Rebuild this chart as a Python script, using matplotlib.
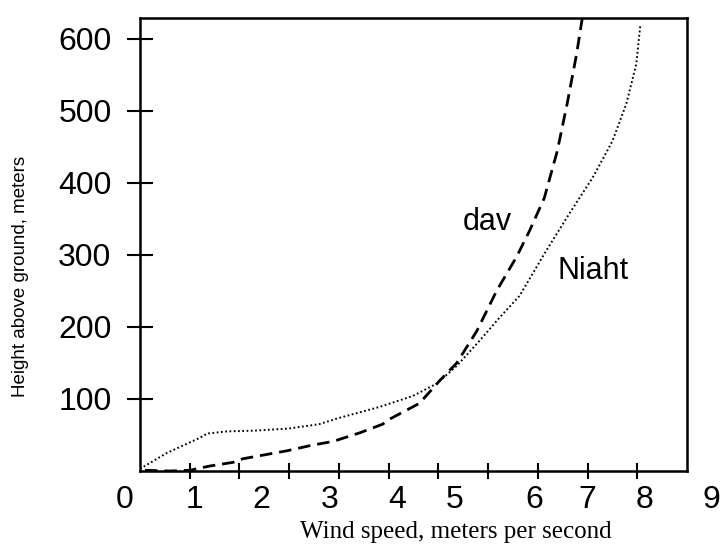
import matplotlib
matplotlib.use("Agg")
import matplotlib.pyplot as plt

# ---- data (x in axis tick units: tick marks at 1..10) ----
day_x = [0.1, 0.6, 1.0, 1.41, 1.87, 2.07, 2.95, 3.47, 3.88, 4.42, 4.88, 5.02, 5.62,
         6.02, 6.37, 6.77, 7.17, 7.57, 7.83, 8.13, 8.39, 8.59, 8.78, 8.92]
day_y = [1, 0, 1, 7, 12, 17, 28, 36, 41, 53, 65, 72, 94,
         125, 150, 194, 250, 297, 333, 379, 444, 510, 579, 640]

night_x = [0.0, 0.54, 1.2, 1.35, 1.75, 2.3, 3.0, 3.6, 4.02, 4.82, 5.48, 5.96, 6.37,
           6.83, 7.23, 7.63, 8.17, 8.63, 9.10, 9.50, 9.78, 9.98, 10.06]
night_y = [3, 25, 46, 52, 55, 56, 59, 65, 74, 89, 104, 121, 146,
           181, 213, 243, 306, 357, 407, 458, 510, 565, 618]

y_ticks = [100, 200, 300, 400, 500, 600]
x_tick_marks = [1, 2, 3, 4, 5, 6, 7, 8, 9, 10]
x_labels = ["0", "1", "2", "3", "4", "5", "6", "7", "8", "9"]

# layout: where the (misaligned) x labels sit, in axis units
x_label_pos = [-0.30, 1.10, 2.43, 3.82, 5.18, 6.33, 7.93, 8.99, 10.14, 11.49]

fig = plt.figure(figsize=(7.21, 5.48), dpi=100)
ax = fig.add_axes([140/721, 77/548, 547/721, 453/548])

ax.plot(day_x, day_y, color="black", lw=2.0, linestyle=(0, (4.5, 2.5)),
        dash_capstyle="butt")
ax.plot(night_x, night_y, color="black", lw=1.4, linestyle=(0, (0.9, 1.3)),
        dash_capstyle="butt")

ax.set_xlim(0, 11)
ax.set_ylim(0, 629)

for s in ax.spines.values():
    s.set_linewidth(1.8)

ax.set_yticks(y_ticks)
ax.set_yticklabels([str(v) for v in y_ticks], family="Liberation Sans", fontsize=23)
ax.tick_params(axis="y", direction="inout", length=19, width=1.5, pad=11)

ax.set_xticks(x_tick_marks)
ax.set_xticklabels([""] * len(x_tick_marks))
ax.tick_params(axis="x", direction="inout", length=11, width=1.5)

for pos, lab in zip(x_label_pos, x_labels):
    ax.text(pos, -0.065, lab, transform=ax.get_xaxis_transform(),
            ha="center", va="center", fontsize=23, family="Liberation Sans",
            clip_on=False)

ax.text(487/721, 1 - 222/548, "dav", transform=fig.transFigure,
        ha="center", va="center", fontsize=22, family="Liberation Sans")
ax.text(593/721, 1 - 271/548, "Niaht", transform=fig.transFigure,
        ha="center", va="center", fontsize=22, family="Liberation Sans")

fig.text(456/721, 1 - 532/548, "Wind speed, meters per second",
         ha="center", va="center", fontsize=18, family="Liberation Serif")
fig.text(21/721, 1 - 276/548, "Height above ground, meters", rotation=90,
         ha="center", va="center", fontsize=13.5, family="Liberation Sans")

fig.savefig("out.png", dpi=100)
